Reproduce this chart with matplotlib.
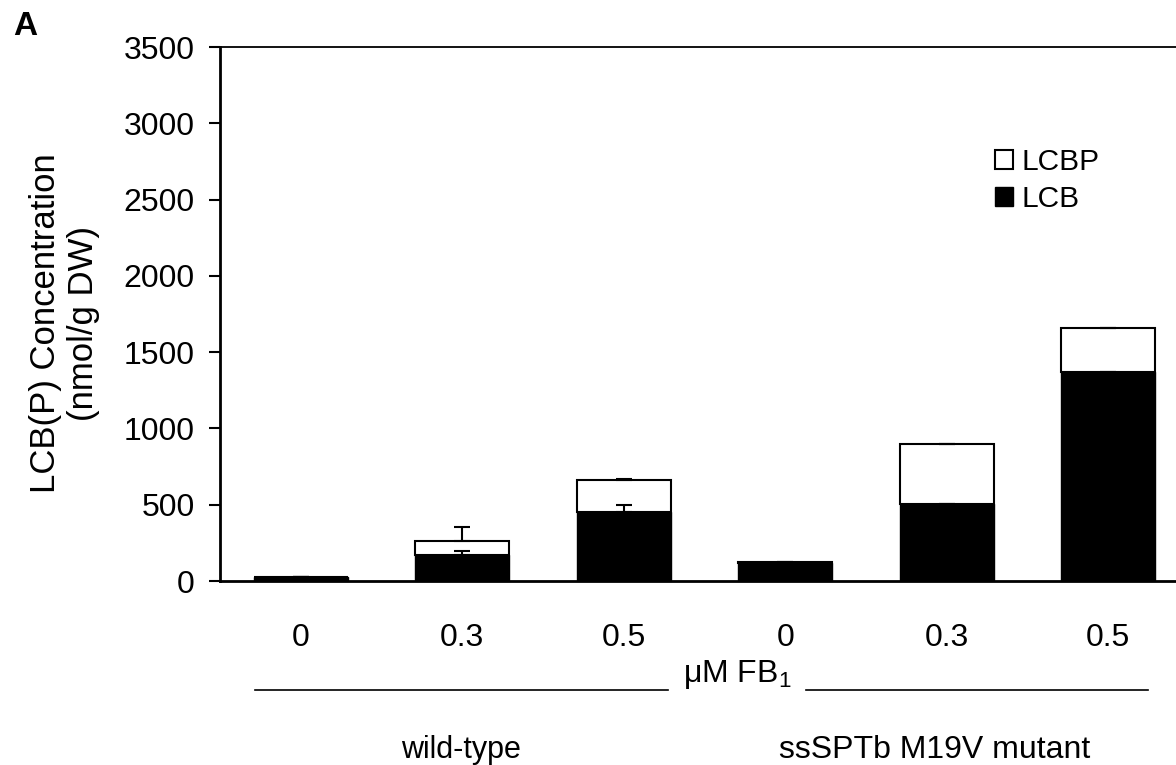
import numpy as np
import matplotlib.pyplot as plt

plt.rcParams['font.family'] = ['Liberation Sans', 'DejaVu Sans']
plt.rcParams['mathtext.fontset'] = 'custom'
plt.rcParams['mathtext.rm'] = 'Liberation Sans'
plt.rcParams['mathtext.it'] = 'Liberation Sans'

doses = ['0', '0.3', '0.5', '0', '0.3', '0.5']
lcb = [25, 170, 450, 120, 502, 1371]
lcbp = [4, 94, 212, 3, 394, 285]
lcb_err = [0, 27, 50, 0, 0, 0]
lcbp_err = [0, 90, 5, 0, 0, 0]

x = np.arange(len(doses))
width = 0.58

fig = plt.figure(figsize=(11.76, 7.65), dpi=100)
ax = fig.add_axes([0.187, 0.2405, 0.824, 0.698])

ebar = dict(ecolor='black', capsize=6, elinewidth=1.5, capthick=1.5)
ax.bar(x, lcb, width, color='black', edgecolor='black', linewidth=1,
       yerr=[np.zeros(6), lcb_err], error_kw=ebar, label='LCB', zorder=2)
ax.bar(x, lcbp, width, bottom=lcb, color='white', edgecolor='black', linewidth=1.5,
       yerr=[np.zeros(6), lcbp_err], error_kw=ebar, label='LCBP', zorder=1)

ax.set_xlim(-0.5, 5.5)
ax.set_ylim(0, 3500)
ax.set_yticks(np.arange(0, 3501, 500))
ax.set_xticks(x)
ax.set_xticklabels(doses)
ax.tick_params(axis='y', labelsize=23, length=8, width=1.5, direction='out', pad=10)
ax.tick_params(axis='x', labelsize=23, length=0, pad=30)

ax.spines['right'].set_visible(False)
ax.spines['left'].set_linewidth(2)
ax.spines['bottom'].set_linewidth(2)
ax.spines['top'].set_linewidth(1.3)

ax.set_ylabel('LCB(P) Concentration\n(nmol/g DW)', fontsize=25)
ax.yaxis.set_label_coords(-0.124, 0.483)

handles, labels = ax.get_legend_handles_labels()
ax.legend(handles[::-1], labels[::-1], loc='upper left', bbox_to_anchor=(0.772, 0.862),
          frameon=False, fontsize=21.5, handlelength=0.6, handleheight=0.6,
          handletextpad=0.3, labelspacing=0.32)

fig.text(0.011, 0.966, 'A', fontsize=24, fontweight='bold', ha='left', va='center')
fig.text(0.627, 0.118, 'μM FB$_1$', fontsize=23, ha='center', va='center')
fig.add_artist(plt.Line2D([0.217, 0.568], [0.098, 0.098], color='black', lw=1.2))
fig.add_artist(plt.Line2D([0.685, 0.976], [0.098, 0.098], color='black', lw=1.2))
fig.text(0.392, 0.02, 'wild-type', fontsize=22, ha='center', va='center')
fig.text(0.795, 0.02, 'ssSPTb M19V mutant', fontsize=23, ha='center', va='center')

fig.savefig('out.png', dpi=100)
